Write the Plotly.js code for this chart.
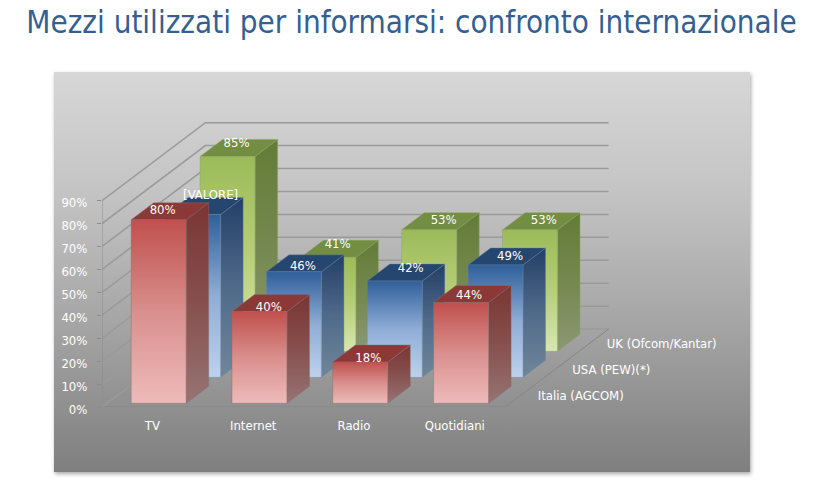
<!DOCTYPE html>
<html><head><meta charset="utf-8">
<script src="https://cdn.plot.ly/plotly-3.0.1.min.js"></script>
<style>
html,body{margin:0;padding:0;background:#fff;width:827px;height:499px;overflow:hidden}
#panel{position:absolute;left:54px;top:72px;width:696px;height:400px;background:linear-gradient(180deg,#d7d7d7 0%,#c4c4c4 30%,#a6a6a6 62%,#7f7f7f 100%);box-shadow:1px 2px 4px rgba(0,0,0,.35)}
#chart{position:absolute;left:0;top:0;width:827px;height:499px}
</style></head><body>
<div id="panel"></div><div id="chart"></div>
<script>
// ---- data ----
const categories = ["TV","Internet","Radio","Quotidiani"];
const seriesNames = ["Italia (AGCOM)","USA (PEW)(*)","UK (Ofcom/Kantar)"];
const italia = [80,40,18,44];
const usa = [71,46,42,49];
const uk = [85,41,53,53];
const italiaLabels = ["80%","40%","18%","44%"];
const usaLabels = ["[VALORE]","46%","42%","49%"];
const ukLabels = ["85%","41%","53%","53%"];
const yTicks = [0,10,20,30,40,50,60,70,80,90];
const yTickLabels = ["0%","10%","20%","30%","40%","50%","60%","70%","80%","90%"];

// ---- oblique projection settings (data-unit shear of the depth axis) ----
const pxX = 100.9, pxY = 2.2956;        // pixels per category / per percent
const depthX = 103.5/pxX, depthY = 78/pxY;
const barLeft = 24.3/pxX, barW = 55/pxX;
const depthStart = 3.7/78, depthLen = 17/78;
const wallRight = 4;                     // categories along the x axis
const P = (x,v,d)=>[x+d*depthX, v+d*depthY];

const styles = [
 {front:["#edbbba","#d98f8d","#c0504d"], top:"#8c3836", side:["#967473","#86504e","#7a3533"], edge:"rgba(135,110,110,.45)"},
 {front:["#bdd2ec","#8fadd6","#2f5f9a"], top:"#24466f", side:["#718699","#4f6a8a","#243f66"], edge:"rgba(110,135,165,.4)"},
 {front:["#d8e7ad","#b7ce78","#9bbb59"], top:"#738d43", side:["#8b9876","#75884f","#637c37"], edge:"rgba(140,165,95,.45)"}
];
const labelNudge = [
 [[4,-10],[9.3,-5.3],[8,-4],[8,-8.3]],
 [[17.5,-20],[9,-6],[16,-13.4],[14.5,-9.6]],
 [[9,-13.7],[9.3,-13.4],[14.5,-10],[13.8,-10]]
];
const labelDrop = 1.2;
const allValues = [italia,usa,uk], allLabels = [italiaLabels,usaLabels,ukLabels];
const traces = [];

// walls and floor
const gx=[],gy=[];
const add=(pts)=>{pts.forEach(p=>{gx.push(p[0]);gy.push(p[1]);});gx.push(null);gy.push(null);};
yTicks.forEach(v=>add([P(0,v,0),P(0,v,1),P(wallRight,v,1)]));
traces.push({type:"scatter",mode:"lines",x:gx,y:gy,line:{color:"#9a9a9a",width:1.5},hoverinfo:"skip",showlegend:false,cliponaxis:false});
const fl=[P(0,0,0),P(wallRight,0,0),P(wallRight,0,1)];
traces.push({type:"scatter",mode:"lines",x:fl.map(p=>p[0]),y:fl.map(p=>p[1]),line:{color:"#858585",width:1},hoverinfo:"skip",showlegend:false,cliponaxis:false});
traces.push({type:"scatter",mode:"lines",x:[0,0],y:[0,yTicks[yTicks.length-1]],line:{color:"#8c8c8c",width:1},hoverinfo:"skip",showlegend:false,cliponaxis:false});

function scale(c){return c.map((col,i)=>[i/(c.length-1),col]);}
function face(pts,grad,color,edge){
  const t={type:"scatter",mode:"lines",x:pts.map(p=>p[0]).concat(pts[0][0]),y:pts.map(p=>p[1]).concat(pts[0][1]),
    fill:"toself",line:{color:edge,width:1},hoverinfo:"skip",showlegend:false,cliponaxis:false};
  if(grad) t.fillgradient={type:"vertical",colorscale:scale(grad)}; else t.fillcolor=color;
  traces.push(t);
}
const lx=[],ly=[],lt=[];
for(let k=2;k>=0;k--){
  const vals=allValues[k], st=styles[k], d0=k/3+depthStart, d1=d0+depthLen;
  categories.forEach((c,i)=>{
    const x0=i+barLeft,x1=x0+barW,v=vals[i];
    face([P(x1,0,d0),P(x1,0,d1),P(x1,v,d1),P(x1,v,d0)],st.side,null,st.edge);
    face([P(x0,v,d0),P(x1,v,d0),P(x1,v,d1),P(x0,v,d1)],null,st.top,st.edge);
    face([P(x0,0,d0),P(x1,0,d0),P(x1,v,d0),P(x0,v,d0)],st.front,null,st.edge);
    const a=P((x0+x1)/2,v,d0),n=labelNudge[k][i];
    lx.push(a[0]+n[0]/pxX);ly.push(a[1]-(n[1]+labelDrop)/pxY);lt.push(allLabels[k][i]);
  });
}
const labelFont={family:"'DejaVu Sans Condensed','DejaVu Sans'",size:13,color:"#ffffff"};
traces.push({type:"scatter",mode:"text",x:lx,y:ly,text:lt,textposition:"middle center",textfont:labelFont,cliponaxis:false,hoverinfo:"skip",showlegend:false});
// series names along the depth axis
const sn=seriesNames.map((s,k)=>P(wallRight+32.6/pxX,4.5,k/3));
traces.push({type:"scatter",mode:"text",x:sn.map(p=>p[0]),y:sn.map(p=>p[1]),text:seriesNames,textposition:"middle right",textfont:labelFont,cliponaxis:false,hoverinfo:"skip",showlegend:false});

const plotLeft=101.5,plotRight=620,plotTop=100,plotBottom=407.3;
const layout={
 width:827,height:499,paper_bgcolor:"rgba(0,0,0,0)",plot_bgcolor:"rgba(0,0,0,0)",showlegend:false,
 margin:{l:plotLeft,r:827-plotRight,t:plotTop,b:499-plotBottom,pad:0},
 title:{text:"Mezzi utilizzati per informarsi: confronto internazionale",x:411.5/827,xanchor:"center",y:1-22/499,yanchor:"middle",
   font:{family:"'DejaVu Sans Condensed','DejaVu Sans'",size:31.1,color:"#365f91"}},
 xaxis:{range:[0,(plotRight-plotLeft)/pxX],tickmode:"array",tickvals:categories.map((c,i)=>i+0.5),ticktext:categories,
   showgrid:false,zeroline:false,showline:false,ticks:"outside",ticklen:6,tickcolor:"rgba(0,0,0,0)",
   tickfont:labelFont,fixedrange:true},
 yaxis:{range:[0,(plotBottom-plotTop)/pxY],tickmode:"array",tickvals:yTicks,ticktext:yTickLabels,
   showgrid:false,zeroline:false,showline:false,ticks:"outside",ticklen:4,tickcolor:"#8c8c8c",ticklabelstandoff:7,ticklabelshift:2,
   tickfont:labelFont,fixedrange:true}
};
Plotly.newPlot("chart",traces,layout,{displayModeBar:false,staticPlot:true});
</script></body></html>
